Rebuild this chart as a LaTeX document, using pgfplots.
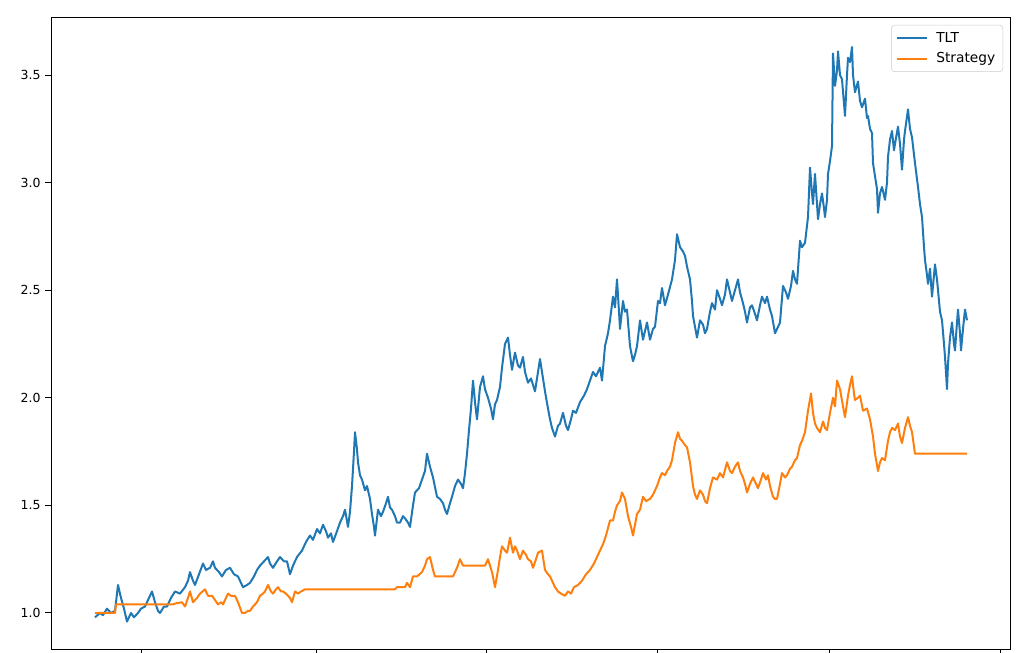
\documentclass[border=0pt]{standalone}
\usepackage{fontspec}
\setmainfont{DejaVu Sans}
\usepackage{pgfplots}
\pgfplotsset{compat=1.18}
\definecolor{mplblue}{HTML}{1F77B4}
\definecolor{mplorange}{HTML}{FF7F0E}
\begin{document}
\begin{tikzpicture}
\begin{axis}[
  scale only axis,
  width=766.4pt, height=505.6pt,
  xmin=52, xmax=1010, ymin=0.828, ymax=3.765,
  xtick={142,316,486,657,829,1000}, xticklabels={},
  ytick={1,1.5,2,2.5,3,3.5},
  yticklabel style={/pgf/number format/fixed,/pgf/number format/fixed zerofill,/pgf/number format/precision=1},
  /pgf/number format/assume math mode=true,
  tick label style={font=\fontsize{10}{12}\selectfont},
  tick pos=left, tick align=outside, major tick length=5.6pt,
  tick style={black, line width=0.8pt},
  axis line style={line width=0.8pt},
  legend style={at={(1,1)}, anchor=north east, xshift=-5.6pt, yshift=-5.6pt,
    draw=black!20, rounded corners=2.5pt, fill=white, fill opacity=0.8, text opacity=1,
    font=\fontsize{11}{13}\selectfont, inner xsep=4pt, inner ysep=3.5pt, row sep=3pt,
    /tikz/every odd column/.append style={column sep=5pt}},
  legend cell align=left,
  legend image code/.code={\draw[#1] (0cm,0cm) -- (0.82cm,0cm);},
]
\addplot[mplblue, line width=1.6pt, line join=round] coordinates {
(95,0.98)(100,1.00)(103,0.99)(107,1.02)(111,1.00)(115,1.01)(118,1.13)(121,1.07)(124,1.02)(127,0.96)
(131,1.00)(134,0.98)(138,1.00)(141,1.02)(145,1.03)(148,1.06)(152,1.10)(155,1.05)(158,1.01)(160,1.00)
(164,1.03)(167,1.03)(171,1.07)(175,1.10)(180,1.09)(185,1.12)(188,1.15)(190,1.19)(193,1.15)(195,1.13)
(199,1.18)(203,1.23)(206,1.20)(210,1.21)(213,1.24)(215,1.21)(219,1.19)(222,1.17)(226,1.20)(230,1.21)
(234,1.18)(238,1.17)(241,1.14)(243,1.12)(247,1.13)(250,1.14)(254,1.17)(257,1.20)(260,1.22)(264,1.24)
(268,1.26)(270,1.23)(273,1.21)(277,1.24)(280,1.26)(284,1.24)(287,1.24)(290,1.18)(293,1.22)(297,1.26)
(302,1.29)(306,1.33)(310,1.36)(313,1.34)(317,1.39)(320,1.37)(323,1.41)(326,1.38)(328,1.35)(331,1.37)
(333,1.33)(337,1.38)(340,1.42)(343,1.45)(345,1.48)(348,1.40)(350,1.47)(352,1.59)(354,1.75)(355,1.84)
(357,1.76)(358,1.70)(360,1.64)(362,1.62)(365,1.57)(367,1.59)(370,1.53)(372,1.46)(374,1.40)(375,1.36)
(378,1.48)(381,1.45)(383,1.47)(386,1.51)(388,1.54)(390,1.49)(392,1.48)(395,1.45)(397,1.42)(400,1.42)
(403,1.45)(405,1.44)(408,1.42)(410,1.40)(413,1.50)(415,1.56)(419,1.58)(422,1.62)(425,1.66)(427,1.74)
(430,1.68)(433,1.63)(437,1.54)(440,1.53)(443,1.51)(445,1.48)(447,1.46)(450,1.51)(452,1.54)(455,1.59)
(458,1.62)(461,1.60)(463,1.58)(465,1.65)(467,1.74)(469,1.85)(471,1.95)(473,2.08)(475,1.98)(477,1.90)
(480,2.05)(483,2.10)(485,2.04)(488,2.00)(491,1.95)(493,1.90)(495,1.97)(497,1.99)(500,2.05)(502,2.14)
(505,2.25)(508,2.28)(510,2.20)(512,2.13)(515,2.21)(518,2.15)(520,2.14)(523,2.19)(525,2.12)(528,2.07)
(531,2.09)(535,2.03)(538,2.12)(540,2.18)(542,2.12)(545,2.03)(548,1.95)(550,1.90)(552,1.86)(555,1.82)
(558,1.87)(560,1.88)(563,1.93)(566,1.87)(568,1.85)(571,1.90)(573,1.94)(576,1.93)(580,1.98)(584,2.01)
(587,2.04)(590,2.08)(593,2.12)(596,2.10)(600,2.14)(602,2.08)(605,2.24)(608,2.30)(610,2.36)(613,2.47)
(615,2.42)(617,2.55)(619,2.40)(620,2.32)(623,2.45)(625,2.40)(627,2.41)(630,2.24)(633,2.17)(635,2.20)
(637,2.24)(640,2.36)(643,2.27)(645,2.31)(647,2.35)(650,2.27)(653,2.32)(655,2.33)(658,2.45)(660,2.44)
(662,2.51)(665,2.43)(668,2.48)(672,2.55)(675,2.64)(677,2.76)(680,2.70)(683,2.68)(685,2.66)(687,2.61)
(690,2.55)(692,2.45)(693,2.38)(695,2.33)(697,2.28)(700,2.36)(703,2.34)(705,2.30)(707,2.32)(710,2.40)
(712,2.44)(715,2.41)(717,2.50)(720,2.46)(722,2.43)(725,2.48)(727,2.55)(730,2.49)(732,2.45)(735,2.50)
(738,2.55)(740,2.49)(743,2.44)(745,2.40)(747,2.35)(750,2.42)(752,2.43)(755,2.39)(757,2.36)(760,2.43)
(762,2.47)(765,2.44)(767,2.47)(770,2.41)(772,2.38)(775,2.30)(778,2.33)(780,2.35)(783,2.52)(786,2.49)
(788,2.46)(791,2.52)(793,2.59)(795,2.55)(797,2.53)(800,2.73)(802,2.70)(805,2.72)(808,2.84)(810,3.07)
(812,2.95)(813,2.90)(815,3.04)(817,2.90)(818,2.83)(820,2.90)(822,2.95)(824,2.88)(825,2.84)(827,2.92)
(828,3.04)(830,3.10)(832,3.17)(833,3.60)(835,3.45)(837,3.52)(838,3.61)(840,3.50)(842,3.48)(845,3.31)
(847,3.50)(848,3.58)(850,3.56)(852,3.63)(853,3.50)(855,3.42)(858,3.47)(860,3.38)(862,3.35)(865,3.39)
(867,3.30)(868,3.31)(870,3.25)(872,3.23)(873,3.09)(875,3.03)(877,2.97)(878,2.86)(880,2.95)(882,2.98)
(885,2.92)(887,3.00)(888,3.12)(890,3.20)(892,3.24)(894,3.15)(895,3.18)(898,3.26)(900,3.18)(902,3.06)
(904,3.20)(905,3.24)(908,3.34)(910,3.25)(912,3.21)(915,3.09)(918,2.98)(920,2.90)(922,2.84)(924,2.70)
(925,2.64)(927,2.57)(928,2.53)(930,2.60)(932,2.47)(935,2.62)(937,2.55)(938,2.50)(940,2.40)(942,2.36)
(944,2.25)(945,2.19)(947,2.04)(948,2.16)(950,2.28)(952,2.35)(954,2.25)(955,2.22)(957,2.35)(958,2.41)
(960,2.30)(961,2.22)(963,2.32)(965,2.41)(967,2.36)
};
\addlegendentry{TLT}
\addplot[mplorange, line width=1.6pt, line join=round] coordinates {
(95,1.00)(115,1.00)(116,1.04)(173,1.04)(176,1.045)(182,1.05)(185,1.03)(188,1.07)(190,1.10)(193,1.05)
(197,1.07)(200,1.09)(205,1.11)(208,1.08)(212,1.08)(215,1.06)(218,1.04)(221,1.05)(223,1.04)(226,1.07)
(228,1.09)(231,1.08)(235,1.08)(238,1.05)(242,1.00)(245,1.00)(248,1.01)(250,1.01)(253,1.03)(257,1.05)
(260,1.08)(263,1.09)(265,1.10)(268,1.13)(271,1.10)(273,1.09)(276,1.11)(278,1.12)(281,1.10)(283,1.10)
(286,1.09)(288,1.08)(290,1.07)(292,1.05)(295,1.10)(298,1.09)(301,1.10)(305,1.11)(395,1.11)(397,1.12)
(405,1.12)(407,1.14)(410,1.12)(413,1.17)(417,1.17)(422,1.19)(425,1.22)(427,1.25)(430,1.26)(433,1.20)
(435,1.17)(453,1.17)(455,1.19)(457,1.21)(460,1.25)(463,1.22)(465,1.22)(485,1.22)(488,1.25)(490,1.22)
(492,1.19)(495,1.12)(498,1.20)(500,1.26)(502,1.31)(505,1.29)(507,1.28)(510,1.35)(513,1.28)(515,1.31)
(517,1.29)(520,1.25)(523,1.29)(526,1.27)(528,1.25)(531,1.24)(533,1.21)(536,1.25)(538,1.28)(542,1.29)
(545,1.20)(548,1.18)(550,1.17)(553,1.14)(555,1.12)(558,1.10)(561,1.09)(565,1.08)(568,1.10)(571,1.09)
(574,1.12)(578,1.13)(582,1.15)(586,1.18)(590,1.20)(594,1.23)(597,1.26)(600,1.29)(603,1.32)(606,1.36)
(610,1.43)(613,1.43)(615,1.47)(617,1.50)(620,1.52)(622,1.56)(625,1.53)(628,1.45)(631,1.40)(633,1.36)
(635,1.41)(637,1.46)(640,1.48)(643,1.54)(646,1.52)(650,1.53)(653,1.55)(657,1.59)(660,1.63)(662,1.65)
(665,1.64)(667,1.66)(670,1.68)(672,1.71)(675,1.79)(678,1.84)(680,1.81)(682,1.80)(685,1.78)(687,1.77)
(690,1.70)(693,1.59)(695,1.55)(697,1.53)(700,1.57)(703,1.55)(705,1.52)(707,1.51)(710,1.58)(713,1.63)
(717,1.62)(720,1.65)(723,1.63)(727,1.70)(730,1.66)(732,1.65)(735,1.68)(738,1.70)(740,1.66)(743,1.63)
(745,1.60)(747,1.56)(750,1.60)(753,1.63)(756,1.60)(758,1.58)(761,1.62)(763,1.65)(766,1.62)(768,1.64)
(770,1.59)(773,1.54)(775,1.53)(777,1.53)(780,1.60)(782,1.65)(785,1.63)(787,1.64)(790,1.67)(792,1.68)
(795,1.71)(797,1.72)(800,1.78)(802,1.80)(805,1.84)(808,1.94)(811,2.02)(813,1.93)(815,1.88)(817,1.86)
(820,1.84)(823,1.89)(825,1.86)(827,1.85)(830,1.93)(833,2.00)(835,1.96)(837,2.08)(840,2.04)(843,1.96)
(845,1.91)(848,2.01)(850,2.06)(852,2.10)(854,2.02)(855,1.99)(858,2.00)(860,2.01)(863,1.94)(867,1.95)
(870,1.90)(873,1.82)(875,1.74)(878,1.66)(880,1.70)(882,1.72)(885,1.71)(888,1.80)(890,1.84)(892,1.86)
(895,1.85)(898,1.88)(900,1.82)(902,1.79)(905,1.86)(908,1.91)(910,1.87)(912,1.84)(915,1.74)(967,1.74)
};
\addlegendentry{Strategy}
\end{axis}
\pgfresetboundingbox
\path[use as bounding box] ([shift={(-41.6pt,-2.4pt)}]current axis.south west) rectangle ([shift={(9.6pt,14.4pt)}]current axis.north east);
\end{tikzpicture}
\end{document}
